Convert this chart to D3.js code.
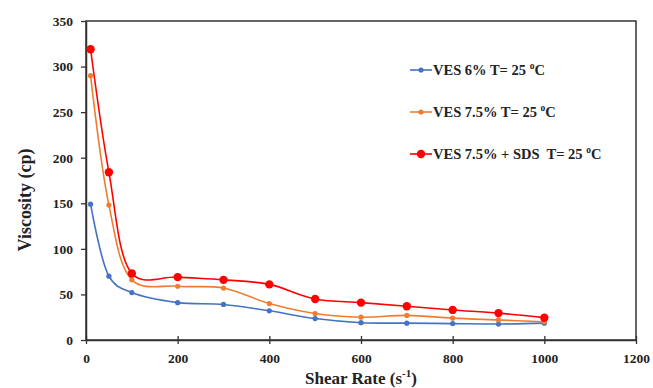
<!DOCTYPE html>
<html>
<head>
<meta charset="utf-8">
<script src="https://cdn.jsdelivr.net/npm/d3@7"></script>
<style>
  body { margin: 0; background: #fff; }
  text { font-family: "Liberation Serif", "DejaVu Serif", serif; font-weight: bold; fill: #222; white-space: pre; }
</style>
</head>
<body>
<div id="chart"></div>
<script>
// shear rate (1/s)
const shearRate = [10, 50, 100, 200, 300, 400, 500, 600, 700, 800, 900, 1000];
// viscosity (cp)
const ves6 = [149, 70, 52, 41, 39, 32, 23.5, 19, 18.5, 18, 17.5, 18.5];
const ves75 = [290, 148, 66, 59, 57, 40, 29, 25, 27, 24, 22, 20];
const ves75sds = [319, 184, 73, 69, 66, 61, 45, 41, 37, 33, 29.5, 24.5];
const xTicks = [0, 200, 400, 600, 800, 1000, 1200];
const yTicks = [0, 50, 100, 150, 200, 250, 300, 350];

const series = [
  { name: "VES 6% T= 25 ", values: ves6, color: "#4472c4", r: 2.6 },
  { name: "VES 7.5% T= 25 ", values: ves75, color: "#ed7d31", r: 2.6 },
  { name: "VES 7.5% + SDS  T= 25 ", values: ves75sds, color: "#ff0000", r: 4.2 }
];

const width = 653, height = 388;
const margin = { left: 86, right: 17, top: 21, bottom: 48 };

const svg = d3.select("#chart").append("svg")
  .attr("width", width)
  .attr("height", height);

const x = d3.scaleLinear().domain([0, 1200]).range([margin.left, width - margin.right]);
const y = d3.scaleLinear().domain([0, 350]).range([height - margin.bottom, margin.top]);

// plot frame
svg.append("rect")
  .attr("x", x(0)).attr("y", y(350))
  .attr("width", x(1200) - x(0)).attr("height", y(0) - y(350))
  .attr("fill", "none").attr("stroke", "#333").attr("stroke-width", 1.5);

const xAxis = svg.append("g")
  .attr("transform", "translate(0," + y(0) + ")")
  .call(d3.axisBottom(x).tickValues(xTicks).tickFormat(d3.format("d"))
    .tickSizeInner(4).tickSizeOuter(0).tickPadding(9));
xAxis.selectAll(".tick line").attr("y1", -4);

const yAxis = svg.append("g")
  .attr("transform", "translate(" + x(0) + ",0)")
  .call(d3.axisLeft(y).tickValues(yTicks).tickSizeInner(5).tickSizeOuter(0).tickPadding(8));

svg.selectAll(".domain").attr("stroke", "#333").attr("stroke-width", 1.5);
svg.selectAll(".tick line").attr("stroke", "#333").attr("stroke-width", 1.3);
svg.selectAll(".tick text").attr("font-size", 13.5).attr("fill", "#222")
  .style("font-family", "'Liberation Serif', serif").style("font-weight", "bold");

const line = d3.line()
  .x((d, i) => x(shearRate[i]))
  .y(d => y(d))
  .curve(d3.curveCatmullRom.alpha(0.25));

series.forEach(s => {
  svg.append("path")
    .attr("d", line(s.values))
    .attr("fill", "none")
    .attr("stroke", s.color)
    .attr("stroke-width", 1.6);
  svg.append("g").selectAll("circle")
    .data(s.values)
    .join("circle")
    .attr("cx", (d, i) => x(shearRate[i]))
    .attr("cy", d => y(d))
    .attr("r", s.r)
    .attr("fill", s.color);
});

// legend
const legend = svg.append("g");
series.forEach((s, i) => {
  const ly = 70 + i * 42;
  legend.append("line")
    .attr("x1", 410).attr("x2", 432).attr("y1", ly).attr("y2", ly)
    .attr("stroke", s.color).attr("stroke-width", 1.6);
  legend.append("circle").attr("cx", 421).attr("cy", ly).attr("r", s.r).attr("fill", s.color);
  const t = legend.append("text")
    .attr("x", 433).attr("y", ly + 5)
    .attr("font-size", 14.5);
  t.append("tspan").text(s.name);
  t.append("tspan").attr("font-size", 9.5).attr("dy", -6).text("o");
  t.append("tspan").attr("dy", 6).text("C");
});

// axis titles
svg.append("text")
  .attr("transform", "translate(31,200) rotate(-90)")
  .attr("text-anchor", "middle")
  .attr("font-size", 18)
  .text("Viscosity (cp)");

const xt = svg.append("text")
  .attr("x", (x(0) + x(1200)) / 2)
  .attr("y", 384)
  .attr("text-anchor", "middle")
  .attr("font-size", 17);
xt.append("tspan").text("Shear Rate (s");
xt.append("tspan").attr("font-size", 11).attr("dy", -7).text("-1");
xt.append("tspan").attr("dy", 7).text(")");
</script>
</body>
</html>
